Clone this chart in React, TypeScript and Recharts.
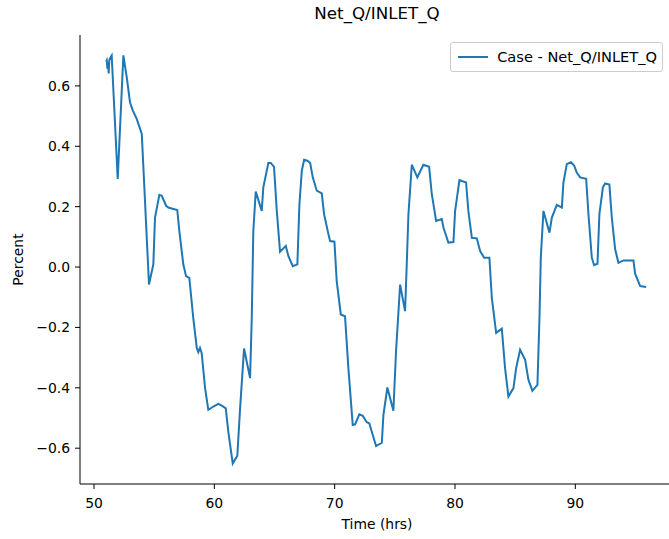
import React from 'react';
import { LineChart, Line, XAxis, YAxis, Label } from 'recharts';

const chartTitle = 'Net_Q/INLET_Q';
const seriesName = 'Case - Net_Q/INLET_Q';
const xAxisTitle = 'Time (hrs)';
const yAxisTitle = 'Percent';

const xTicks = [50, 60, 70, 80, 90];
const yTicks = [-0.6, -0.4, -0.2, 0, 0.2, 0.4, 0.6];

const timeHrs = [
  51.0, 51.06, 51.11, 51.16, 51.22, 51.27, 51.39, 51.47, 51.97, 52.44,
  52.72, 52.99, 53.22, 53.55, 53.97, 54.57, 54.93, 55.07, 55.43, 55.63,
  55.99, 56.18, 56.46, 56.92, 57.09, 57.42, 57.65, 57.92, 58.25, 58.54,
  58.67, 58.81, 58.95, 59.23, 59.5, 59.92, 60.33, 60.62, 60.95, 61.16,
  61.53, 61.91, 62.14, 62.47, 62.97, 63.11, 63.24, 63.44, 63.94, 64.07,
  64.49, 64.69, 64.96, 65.19, 65.46, 65.94, 66.15, 66.52, 66.9, 67.07,
  67.27, 67.46, 67.73, 67.96, 68.18, 68.51, 68.93, 69.12, 69.48, 69.62,
  69.98, 70.17, 70.51, 70.86, 71.14, 71.5, 71.7, 72.05, 72.34, 72.67,
  72.88, 73.08, 73.44, 73.92, 74.05, 74.38, 74.88, 75.1, 75.44, 75.85,
  75.99, 76.13, 76.41, 76.87, 77.37, 77.85, 78.07, 78.43, 78.9, 79.04,
  79.45, 79.87, 80.01, 80.37, 80.92, 81.11, 81.4, 81.81, 82.09, 82.42,
  82.86, 83.06, 83.42, 83.89, 84.16, 84.44, 84.86, 85.08, 85.41, 85.83,
  86.1, 86.43, 86.85, 87.02, 87.13, 87.35, 87.85, 88.05, 88.46, 88.88,
  89.01, 89.29, 89.63, 89.9, 90.12, 90.4, 90.9, 91.09, 91.37, 91.56,
  91.84, 92.0, 92.29, 92.48, 92.83, 93.03, 93.31, 93.58, 94.0, 94.83,
  94.97, 95.16, 95.39, 95.89,
];

const netQPercent = [
  0.68, 0.685, 0.657, 0.679, 0.641, 0.685, 0.696, 0.701, 0.292, 0.701,
  0.629, 0.546, 0.519, 0.491, 0.441, -0.058, 0.009, 0.164, 0.239, 0.236,
  0.203, 0.197, 0.194, 0.189, 0.12, 0.009, -0.03, -0.036, -0.169, -0.268,
  -0.282, -0.268, -0.285, -0.401, -0.473, -0.462, -0.453, -0.459, -0.468, -0.545,
  -0.651, -0.625, -0.468, -0.27, -0.368, -0.169, 0.12, 0.25, 0.186, 0.264,
  0.345, 0.345, 0.332, 0.186, 0.051, 0.07, 0.037, 0.003, 0.009, 0.208,
  0.319, 0.355, 0.352, 0.345, 0.297, 0.253, 0.244, 0.175, 0.109, 0.086,
  0.084, -0.047, -0.157, -0.163, -0.335, -0.523, -0.521, -0.488, -0.493, -0.514,
  -0.518, -0.545, -0.593, -0.582, -0.49, -0.399, -0.476, -0.279, -0.058, -0.146,
  0.009, 0.175, 0.339, 0.297, 0.339, 0.332, 0.242, 0.153, 0.159, 0.131,
  0.081, 0.083, 0.186, 0.288, 0.28, 0.186, 0.097, 0.095, 0.053, 0.031,
  0.031, -0.102, -0.218, -0.204, -0.335, -0.429, -0.401, -0.335, -0.274, -0.307,
  -0.373, -0.41, -0.39, -0.169, 0.031, 0.186, 0.114, 0.164, 0.206, 0.197,
  0.28, 0.341, 0.347, 0.336, 0.313, 0.297, 0.292, 0.175, 0.031, 0.006,
  0.011, 0.175, 0.264, 0.277, 0.273, 0.164, 0.059, 0.014, 0.022, 0.022,
  -0.022, -0.041, -0.063, -0.066,
];

const data = timeHrs.map((t, i) => ({ t, v: netQPercent[i] }));

const FONT = '"DejaVu Sans", sans-serif';
const LINE_COLOR = '#1f77b4';

const fmtY = (v: number) => {
  const s = Math.abs(v).toFixed(1);
  return v < -1e-9 ? '\u2212' + s : s;
};

const XTitle = (props: any) => {
  const vb = props.viewBox || { x: 80, y: 484, width: 594, height: 55 };
  return (
    <text x={vb.x + vb.width / 2} y={vb.y + 45} textAnchor="middle" fontSize={13.9} fill="#000" fontFamily={FONT}>
      {xAxisTitle}
    </text>
  );
};

const YTitle = (props: any) => {
  const vb = props.viewBox || { x: 0, y: 35, width: 80, height: 449 };
  const cx = vb.x + 18;
  const cy = vb.y + vb.height / 2;
  return (
    <text x={cx} y={cy} dy="0.35em" textAnchor="middle" fontSize={13.9} fill="#000" fontFamily={FONT} transform={`rotate(-90, ${cx}, ${cy})`}>
      {yAxisTitle}
    </text>
  );
};

export default function App() {
  return (
    <div style={{ position: 'fixed', left: 0, top: 0, width: 669, height: 539, overflow: 'hidden', background: '#fff', fontFamily: FONT }}>
      <LineChart width={700} height={539} data={data} margin={{ top: 35, right: 26, left: 0, bottom: 0 }}>
        <XAxis
          xAxisId="b"
          dataKey="t"
          type="number"
          domain={[48.836, 98.2]}
          allowDataOverflow
          ticks={xTicks}
          interval={0}
          height={55}
          tickSize={5}
          tickMargin={9}
          stroke="#000"
          tick={{ fill: '#000', fontSize: 13.9, fontFamily: FONT }}
        >
          <Label content={XTitle} />
        </XAxis>
        <XAxis
          xAxisId="t"
          orientation="top"
          dataKey="t"
          type="number"
          domain={[48.836, 98.2]}
          allowDataOverflow
          height={0}
          tick={false}
          tickLine={false}
          stroke="#000"
        />
        <YAxis
          yAxisId="l"
          type="number"
          domain={[-0.7186, 0.7686]}
          allowDataOverflow
          ticks={yTicks}
          interval={0}
          width={80}
          tickSize={5}
          tickMargin={5}
          stroke="#000"
          tickFormatter={fmtY}
          tick={{ fill: '#000', fontSize: 13.9, fontFamily: FONT }}
        >
          <Label content={YTitle} />
        </YAxis>
        <YAxis
          yAxisId="r"
          orientation="right"
          type="number"
          domain={[-0.7186, 0.7686]}
          allowDataOverflow
          width={0}
          tick={false}
          tickLine={false}
          stroke="#000"
        />
        <Line
          xAxisId="b"
          yAxisId="l"
          dataKey="v"
          type="linear"
          stroke={LINE_COLOR}
          strokeWidth={2}
          dot={false}
          isAnimationActive={false}
        />
      </LineChart>
      <div style={{ position: 'absolute', left: 0, top: 3, width: 754, textAlign: 'center', fontSize: 16.7, lineHeight: '20px', color: '#000' }}>
        {chartTitle}
      </div>
      <div
        style={{
          position: 'absolute',
          right: 6,
          top: 42,
          border: '1px solid #cccccc',
          borderRadius: 3,
          background: 'rgba(255,255,255,0.8)',
          padding: '5px 5px 5px 7px',
          display: 'flex',
          alignItems: 'center',
          fontSize: 14.6,
          lineHeight: '18px',
          color: '#000',
        }}
      >
        <svg width={30} height={4} style={{ display: 'block' }}>
          <line x1={0} y1={2} x2={30} y2={2} stroke={LINE_COLOR} strokeWidth={2} />
        </svg>
        <span style={{ marginLeft: 9, whiteSpace: 'nowrap' }}>{seriesName}</span>
      </div>
    </div>
  );
}
